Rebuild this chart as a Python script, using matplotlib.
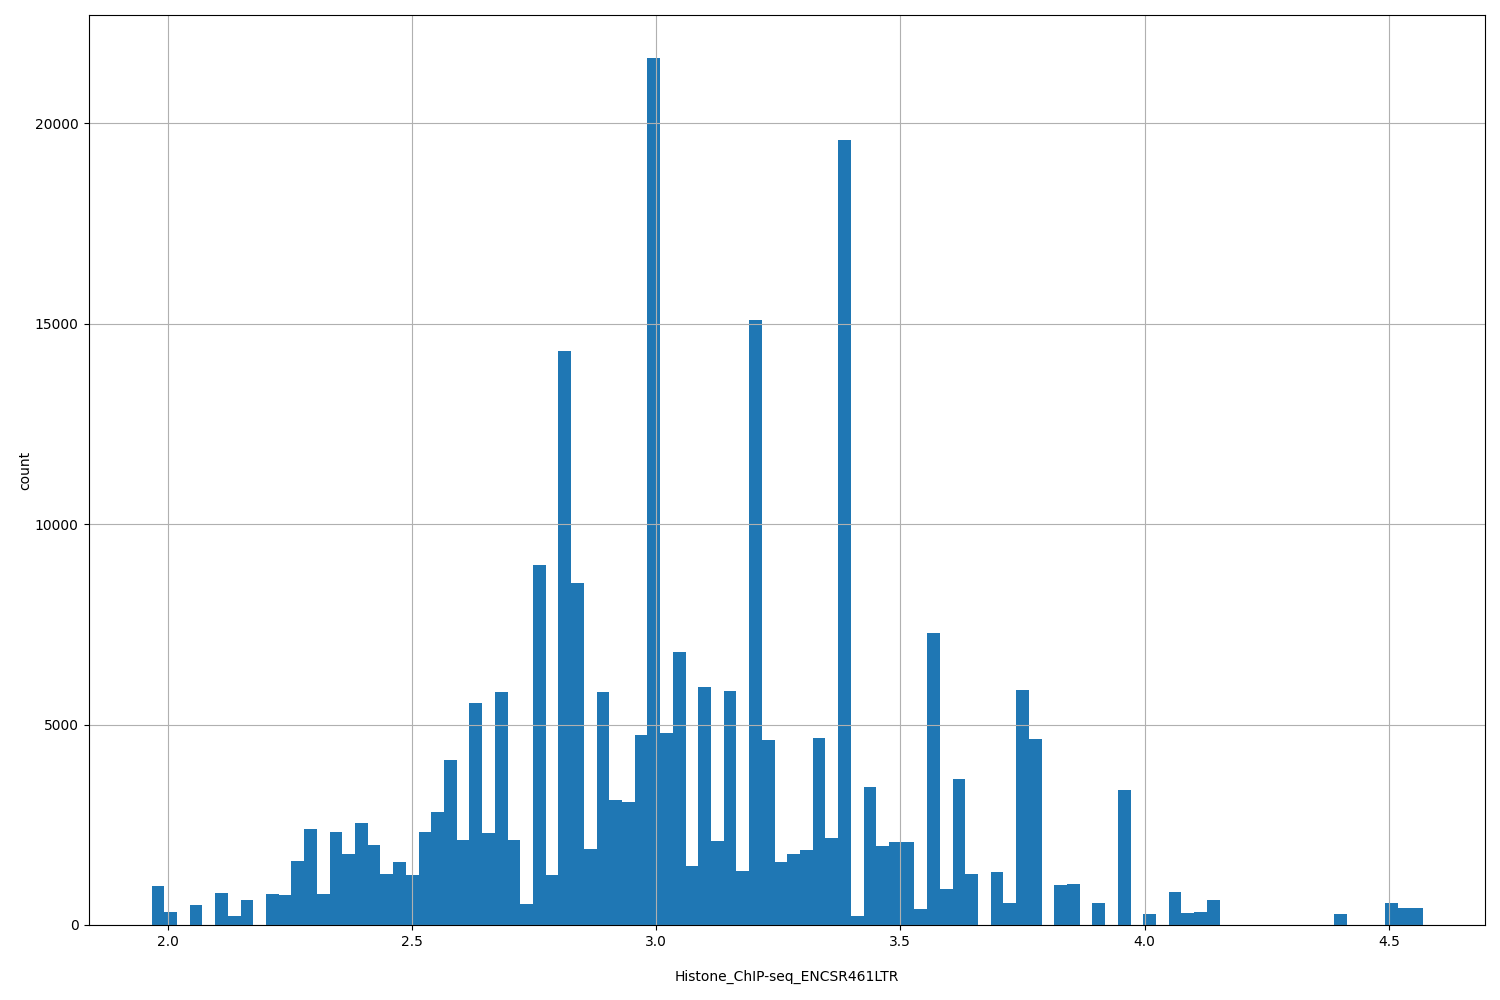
import numpy as np
import matplotlib
matplotlib.use('Agg')
import matplotlib.pyplot as plt

# histogram bin range and counts
bin_lo, bin_hi = 1.967, 4.570
counts = [970, 330, 0, 500, 0, 800, 220, 620, 0, 780,
          750, 1600, 2400, 780, 2320, 1780, 2550, 2000, 1270, 1560,
          1250, 2320, 2820, 4120, 2120, 5550, 2300, 5820, 2120, 520,
          8980, 1250, 14320, 8530, 1900, 5820, 3120, 3080, 4730, 21620,
          4800, 6800, 1480, 5930, 2100, 5830, 1350, 15100, 4620, 1560,
          1780, 1880, 4660, 2180, 19580, 230, 3450, 1980, 2080, 2080,
          400, 7280, 900, 3640, 1270, 0, 1320, 550, 5860, 4640,
          0, 1000, 1020, 0, 550, 0, 3360, 0, 280, 0,
          820, 310, 330, 620, 0, 0, 0, 0, 0, 0,
          0, 0, 0, 280, 0, 0, 0, 550, 430, 430]

edges = np.linspace(bin_lo, bin_hi, len(counts) + 1)
centers = (edges[:-1] + edges[1:]) / 2

fig, ax = plt.subplots(figsize=(15, 10), dpi=100)
ax.hist(centers, bins=edges, weights=counts, color='#1f77b4')
ax.grid(True)
ax.set_xlim(1.838, 4.697)
ax.set_xlabel('Histone_ChIP-seq_ENCSR461LTR', labelpad=15)
ax.set_ylabel('count', labelpad=2)
plt.subplots_adjust(left=0.059, right=0.99, top=0.985, bottom=0.075)
plt.savefig('out.png')
